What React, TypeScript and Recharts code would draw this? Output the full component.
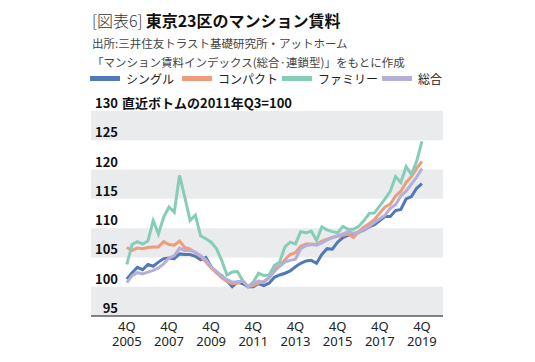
import React from "react";
import { LineChart, Line, XAxis, YAxis, ReferenceArea } from "recharts";

// 4Q2005 .. 4Q2019, quarterly, index 2011Q3 = 100
const single = [
  101.3, 102.4, 103.3, 102.9, 103.8, 103.5, 104.2, 104.8, 104.9, 104.8,
  105.6, 105.5, 105.5, 105.2, 104.6, 105.0, 103.4, 102.4, 101.9, 101.0,
  100.0, 100.8, 100.5, 100.0, 100.0, 100.5, 100.2, 100.6, 101.6, 102.0,
  102.3, 102.7, 103.4, 104.0, 104.4, 104.5, 104.0, 105.5, 106.5, 106.4,
  107.6, 108.4, 108.8, 109.0, 109.3, 109.7, 110.2, 110.6, 111.3, 112.0,
  112.0, 113.0, 113.2, 115.0, 115.4, 116.8, 117.6,
];
const compact = [
  106.7, 106.2, 106.6, 106.5, 106.7, 106.8, 106.8, 107.7, 107.2, 107.1,
  107.8, 106.7, 106.4, 105.8, 105.2, 104.2, 103.2, 102.4, 101.5, 100.9,
  100.5, 100.6, 101.0, 100.0, 100.2, 100.6, 100.9, 101.6, 103.0, 103.6,
  104.6, 105.5, 105.8, 106.9, 107.3, 107.3, 107.2, 107.8, 108.1, 108.4,
  108.6, 108.8, 109.0, 108.4, 109.4, 110.2, 110.8, 111.5, 112.6, 113.6,
  114.1, 115.5, 116.3, 117.8, 118.8, 120.2, 121.4,
];
const family = [
  103.8, 107.2, 107.7, 107.3, 107.8, 111.3, 109.0, 111.9, 113.6, 112.7,
  119.0, 115.3, 111.3, 112.2, 108.7, 108.2, 107.6, 106.5, 104.5, 102.0,
  102.5, 102.6, 101.0, 100.0, 100.8, 102.3, 101.9, 102.0, 103.6, 104.2,
  106.8, 107.6, 107.3, 109.4, 109.2, 109.5, 107.9, 110.2, 109.7, 109.4,
  109.2, 110.3, 109.8, 109.8, 110.3, 111.3, 112.5, 112.6, 113.8, 115.0,
  116.3, 118.8, 117.8, 120.5, 119.2, 121.4, 124.8,
];
const total = [
  100.7, 101.9, 102.4, 102.2, 102.5, 102.8, 103.2, 103.9, 104.9, 105.3,
  106.6, 106.2, 106.2, 105.9, 105.3, 104.6, 103.4, 102.6, 101.8, 101.2,
  100.8, 100.8, 101.0, 100.0, 100.5, 101.0, 100.7, 101.5, 102.6, 103.5,
  104.2, 104.5, 104.7, 106.5, 107.0, 107.2, 107.1, 107.5, 108.0, 108.4,
  108.7, 109.0, 109.4, 109.1, 109.3, 109.8, 110.3, 111.0, 111.6, 112.2,
  113.4, 114.0, 115.5, 116.3, 117.5, 118.7, 120.2,
];

const yearTicks = ["2005", "2007", "2009", "2011", "2013", "2015", "2017", "2019"];
const yTicks = [95, 100, 105, 110, 115, 120, 125, 130];
const bands: [number, number][] = [
  [95, 100],
  [105, 110],
  [115, 120],
  [125, 130],
];

const series = [
  { key: "single", name: "シングル", color: "#4f79ba", values: single },
  { key: "compact", name: "コンパクト", color: "#ee9c7b", values: compact },
  { key: "family", name: "ファミリー", color: "#86cdb9", values: family },
  { key: "total", name: "総合", color: "#b5afd8", values: total },
];

const data = single.map((_, i) => {
  const row: any = { i };
  series.forEach((s) => (row[s.key] = s.values[i]));
  return row;
});

const FONT = "'Noto Sans CJK JP', 'Noto Sans', sans-serif";

const YTick = (props: any) => {
  const { y, payload } = props;
  return (
    <g>
      <text x={118} y={y - 3} textAnchor="end" fontSize={13} fontWeight={700} fill="#111" fontFamily={FONT}>
        {payload.value}
      </text>
      {payload.value === 130 && (
        <text x={122} y={y - 3} fontSize={13} fontWeight={700} fill="#111" fontFamily={FONT}>
          直近ボトムの2011年Q3=100
        </text>
      )}
    </g>
  );
};

const XTick = (props: any) => {
  const { x, y, payload } = props;
  const year = yearTicks[payload.value / 8];
  return (
    <g>
      <text x={x} y={y + 15} textAnchor="middle" fontSize={13} fill="#222" fontFamily="'Noto Sans', sans-serif">
        4Q
      </text>
      <text x={x} y={y + 29.5} textAnchor="middle" fontSize={13} fill="#222" fontFamily="'Noto Sans', sans-serif">
        {year}
      </text>
    </g>
  );
};

export default function App() {
  return (
    <div style={{ position: "absolute", left: 0, top: 0, width: 535, height: 362, background: "#fff", fontFamily: FONT }}>
      <div style={{ position: "absolute", left: 92, top: 9, fontSize: 16, lineHeight: "22px", color: "#111", whiteSpace: "nowrap" }}>
        <span style={{ fontWeight: 300, color: "#333" }}>[図表6]</span>
        <span style={{ fontWeight: 700, marginLeft: 3 }}>東京23区のマンション賃料</span>
      </div>
      <div style={{ position: "absolute", left: 92, top: 34, fontSize: 11.5, lineHeight: "19px", color: "#444", whiteSpace: "nowrap" }}>
        出所:三井住友トラスト基礎研究所・アットホーム
        <br />
        「マンション賃料インデックス(総合·連鎖型)」をもとに作成
      </div>
      {series.map((s, k) => {
        const left = [90, 182, 282, 382][k];
        return (
          <div key={s.key} style={{ position: "absolute", left, top: 70, height: 16, display: "flex", alignItems: "center", whiteSpace: "nowrap" }}>
            <div style={{ width: 30, height: 5, background: s.color, marginRight: 6 }} />
            <span style={{ fontSize: 12, color: "#222" }}>{s.name}</span>
          </div>
        );
      })}
      <div style={{ position: "absolute", left: 0, top: 0 }}>
        <LineChart width={535} height={362} data={data} margin={{ top: 111, right: 92, bottom: 16, left: 61 }}>
          {bands.map(([a, b]) => (
            <ReferenceArea key={a} y1={a} y2={b} fill="#e9ebed" fillOpacity={1} stroke="none" ifOverflow="visible" />
          ))}
          <XAxis
            type="number"
            dataKey="i"
            domain={[-6.8, 60]}
            ticks={[0, 8, 16, 24, 32, 40, 48, 56]}
            interval={0}
            height={30}
            tickLine={false}
            tickSize={0}
            tickMargin={0}
            axisLine={{ stroke: "#111", strokeWidth: 1.2 }}
            tick={<XTick />}
          />
          <YAxis
            type="number"
            domain={[95, 130]}
            ticks={yTicks}
            interval={0}
            width={30}
            axisLine={false}
            tickLine={false}
            tick={<YTick />}
          />
          {series.map((s) => (
            <Line
              key={s.key}
              type="linear"
              dataKey={s.key}
              stroke={s.color}
              strokeWidth={3}
              dot={false}
              isAnimationActive={false}
            />
          ))}
        </LineChart>
      </div>
    </div>
  );
}
